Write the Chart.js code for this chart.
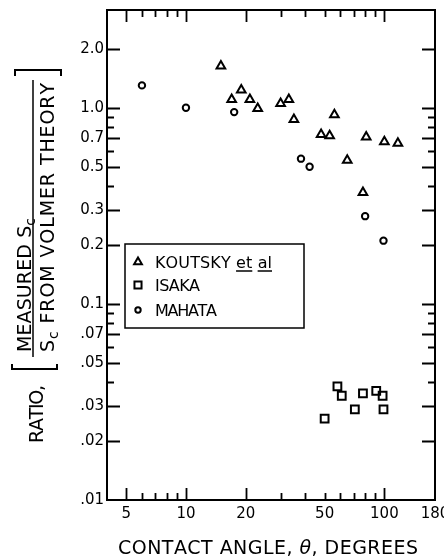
<!DOCTYPE html>
<html>
<head>
<meta charset="utf-8">
<script src="https://cdn.jsdelivr.net/npm/chart.js@4.4.1/dist/chart.umd.min.js"></script>
<style>
  html, body { margin: 0; padding: 0; background: #fff; }
</style>
</head>
<body>
<canvas id="grafico" width="444" height="557"></canvas>
<script>
// Koutsky et al (triangulos)
const koutskyX = [15, 17, 19, 21, 23, 30, 33, 35, 48, 53, 56, 65, 78, 81, 100, 117];
const koutskyY = [1.63, 1.1, 1.23, 1.1, 0.99, 1.05, 1.1, 0.87, 0.73, 0.72, 0.92, 0.54, 0.37, 0.71, 0.67, 0.66];
// Isaka (cuadros)
const isakaX = [50, 58, 61, 71, 78, 91, 98, 99];
const isakaY = [0.026, 0.038, 0.034, 0.029, 0.035, 0.036, 0.034, 0.029];
// Mahata (circulos)
const mahataX = [6, 10, 17.5, 38, 42, 80, 99];
const mahataY = [1.3, 1.0, 0.95, 0.55, 0.5, 0.28, 0.21];

// ejes
const xLabels = [5, 10, 20, 50, 100, 180];
const xLong = [5, 10, 20, 100];
const xShort = [6, 7, 8, 9, 30, 40, 50, 60, 70, 80, 90];
const yLabels = [0.01, 0.02, 0.03, 0.05, 0.07, 0.1, 0.2, 0.3, 0.5, 0.7, 1, 2];
const yLabelText = ['.01', '.02', '.03', '.05', '.07', '0.1', '0.2', '0.3', '0.5', '0.7', '1.0', '2.0'];
const yShort = [0.04, 0.06, 0.08, 0.09, 0.4, 0.6, 0.8, 0.9];

const FUENTE = '"DejaVu Sans"';

// texto con espaciado ajustado a un ancho dado
function dibujarTexto(ctx, partes, x, y, ancho) {
  let natural = 0, n = 0;
  partes.forEach(p => {
    ctx.font = (p.it ? 'italic ' : '') + p.size + 'px ' + FUENTE;
    for (const ch of p.t) { natural += ctx.measureText(ch).width; n++; }
  });
  const esp = n > 1 ? (ancho - natural) / (n - 1) : 0;
  let cx = x;
  ctx.textAlign = 'left';
  ctx.textBaseline = 'alphabetic';
  partes.forEach(p => {
    ctx.font = (p.it ? 'italic ' : '') + p.size + 'px ' + FUENTE;
    const x0 = cx;
    for (const ch of p.t) {
      ctx.fillText(ch, cx, y + (p.dy || 0));
      cx += ctx.measureText(ch).width + esp;
    }
    if (p.ul) {
      ctx.lineWidth = 1.5;
      ctx.beginPath();
      ctx.moveTo(x0, y + 3);
      ctx.lineTo(cx - esp, y + 3);
      ctx.stroke();
    }
  });
}

// marco y marcas hacia adentro
const marcoPlugin = {
  id: 'marco',
  afterDraw(chart) {
    const { ctx, chartArea: a, scales } = chart;
    ctx.save();
    ctx.strokeStyle = '#000';
    ctx.lineWidth = 1.8;
    const marcaX = (v, len) => {
      const px = Math.round(scales.x.getPixelForValue(v)) + 0.5;
      ctx.beginPath();
      ctx.moveTo(px, a.bottom); ctx.lineTo(px, a.bottom - len);
      ctx.moveTo(px, a.top); ctx.lineTo(px, a.top + len);
      ctx.stroke();
    };
    const marcaY = (v, len) => {
      const py = Math.round(scales.y.getPixelForValue(v)) + 0.5;
      ctx.beginPath();
      ctx.moveTo(a.left, py); ctx.lineTo(a.left + len, py);
      ctx.moveTo(a.right, py); ctx.lineTo(a.right - len, py);
      ctx.stroke();
    };
    xLong.forEach(v => marcaX(v, 12));
    xShort.forEach(v => marcaX(v, 7));
    yLabels.forEach(v => { if (v > 0.01) marcaY(v, 13); });
    yShort.forEach(v => marcaY(v, 7));
    ctx.lineWidth = 2;
    ctx.strokeRect(a.left, a.top, a.right - a.left, a.bottom - a.top);
    ctx.restore();
  }
};

// leyenda dentro del area
const leyendaPlugin = {
  id: 'leyenda',
  afterDraw(chart) {
    const ctx = chart.ctx;
    ctx.save();
    ctx.strokeStyle = '#000';
    ctx.lineWidth = 1.5;
    ctx.strokeRect(125, 244, 179, 84);
    const filas = [
      { y: 262, partes: [{ t: 'KOUTSKY ', size: 16 }, { t: 'et', size: 16, ul: true }, { t: ' ', size: 16 }, { t: 'al', size: 16, ul: true }], ancho: 117 },
      { y: 285, partes: [{ t: 'ISAKA', size: 16 }], ancho: 45 },
      { y: 310, partes: [{ t: 'MAHATA', size: 16 }], ancho: 62 }
    ];
    chart.data.datasets.forEach((ds, i) => {
      const f = filas[i];
      ctx.lineWidth = 2;
      ctx.fillStyle = 'rgba(0,0,0,0)';
      Chart.helpers.drawPoint(ctx, { pointStyle: ds.pointStyle, radius: ds.pointRadius - 0.5, rotation: 0, borderWidth: 2 }, 138, f.y);
      ctx.fillStyle = '#000';
      dibujarTexto(ctx, f.partes, 155, f.y + 6, f.ancho);
    });
    ctx.restore();
  }
};

// titulos de los ejes
const titulosPlugin = {
  id: 'titulos',
  afterDraw(chart) {
    const ctx = chart.ctx;
    ctx.save();
    ctx.fillStyle = '#000';
    ctx.strokeStyle = '#000';
    dibujarTexto(ctx, [{ t: 'CONTACT ANGLE, ', size: 19 }, { t: 'θ', size: 19, it: true }, { t: ', DEGREES', size: 19 }], 118, 554, 300);

    const rot = (x, y, fn) => {
      ctx.save();
      ctx.translate(x, y);
      ctx.rotate(-Math.PI / 2);
      fn();
      ctx.restore();
    };
    rot(43, 443, () => dibujarTexto(ctx, [{ t: 'RATIO,', size: 19 }], 0, 0, 58));
    rot(31, 352, () => dibujarTexto(ctx, [{ t: 'MEASURED S', size: 19 }, { t: 'c', size: 14, dy: 4 }], 0, 0, 134));
    rot(54, 352, () => dibujarTexto(ctx, [{ t: 'S', size: 19 }, { t: 'c', size: 14, dy: 4 }, { t: ' FROM VOLMER THEORY', size: 19 }], 0, 0, 269));

    ctx.lineWidth = 1.5;
    ctx.beginPath();
    ctx.moveTo(33, 357); ctx.lineTo(33, 80);
    ctx.stroke();
    ctx.lineWidth = 2;
    ctx.beginPath();
    ctx.moveTo(12, 364); ctx.lineTo(12, 369); ctx.lineTo(57, 369); ctx.lineTo(57, 364);
    ctx.moveTo(15, 76); ctx.lineTo(15, 70); ctx.lineTo(61, 70); ctx.lineTo(61, 76);
    ctx.stroke();
    ctx.restore();
  }
};

const puntos = (xs, ys) => xs.map((x, i) => ({ x, y: ys[i] }));
const estilo = { borderColor: '#000', backgroundColor: 'rgba(0,0,0,0)', pointBorderWidth: 2, showLine: false };

new Chart(document.getElementById('grafico').getContext('2d'), {
  type: 'scatter',
  data: {
    datasets: [
      { label: 'KOUTSKY et al', data: puntos(koutskyX, koutskyY), pointStyle: 'triangle', pointRadius: 5, ...estilo },
      { label: 'ISAKA', data: puntos(isakaX, isakaY), pointStyle: 'rect', pointRadius: 5.5, ...estilo },
      { label: 'MAHATA', data: puntos(mahataX, mahataY), pointStyle: 'circle', pointRadius: 3.2, ...estilo }
    ]
  },
  options: {
    responsive: false,
    animation: false,
    layout: { padding: { top: 10, right: 9, left: 0, bottom: 0 } },
    plugins: { legend: { display: false }, tooltip: { enabled: false } },
    scales: {
      x: {
        type: 'logarithmic', min: 4, max: 180,
        grid: { display: false, drawTicks: false },
        border: { display: false },
        afterBuildTicks: s => { s.ticks = xLabels.map(v => ({ value: v })); },
        afterFit: s => { s.height = 57; s.paddingLeft = 0; s.paddingRight = 0; },
        ticks: {
          autoSkip: false, maxRotation: 0, padding: 5, color: '#000',
          font: { family: 'DejaVu Sans', size: 15 },
          callback: v => xLabels.includes(v) ? String(v) : ''
        }
      },
      y: {
        type: 'logarithmic', min: 0.01, max: 3.15,
        grid: { display: false, drawTicks: false },
        border: { display: false },
        afterBuildTicks: s => { s.ticks = yLabels.map(v => ({ value: v })); },
        afterFit: s => { s.width = 107; s.paddingTop = 0; s.paddingBottom = 0; },
        ticks: {
          autoSkip: false, padding: 3, color: '#000',
          font: { family: 'DejaVu Sans', size: 15 },
          callback: v => { const i = yLabels.indexOf(v); return i >= 0 ? yLabelText[i] : ''; }
        }
      }
    }
  },
  plugins: [marcoPlugin, leyendaPlugin, titulosPlugin]
});
</script>
</body>
</html>
